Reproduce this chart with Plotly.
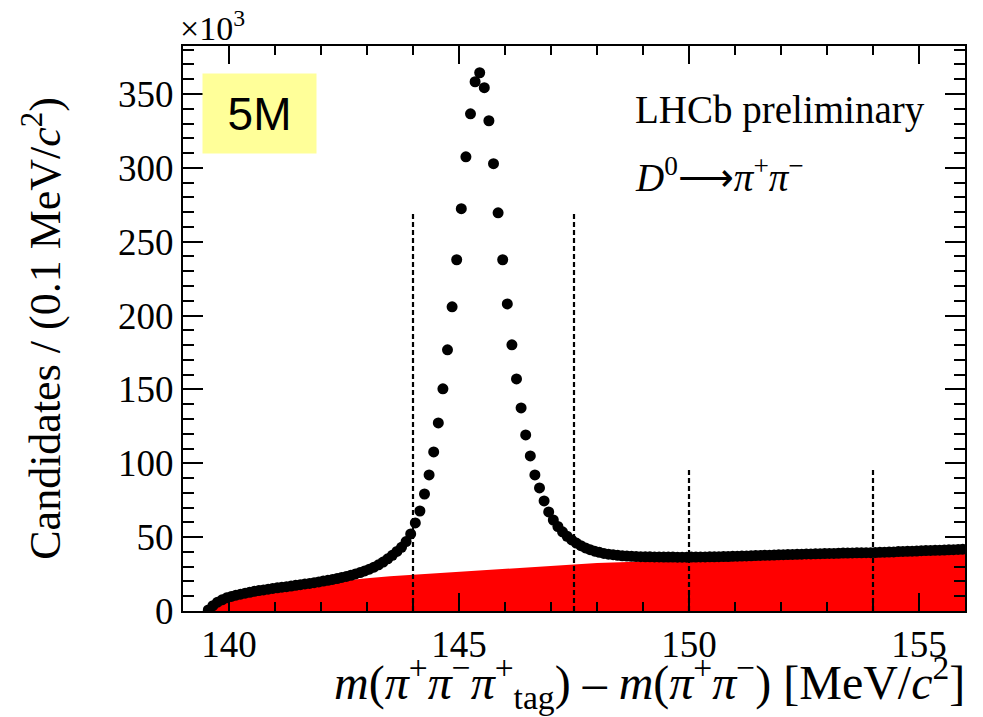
import plotly.graph_objects as go

# ---- data (values in units of 10^3 candidates per 0.1 MeV/c^2 bin) ----
bin_low = 139.5
bin_width = 0.1
candidates = [
    0.7, 3.6, 6.0, 7.6, 8.9, 9.9, 10.7, 11.4, 12.1, 12.7,
    13.3, 13.8, 14.3, 14.8, 15.3, 15.7, 16.1, 16.5, 16.9, 17.4,
    17.8, 18.3, 18.7, 19.2, 19.7, 20.3, 20.8, 21.4, 22.0, 22.7,
    23.4, 24.2, 25.1, 26.0, 27.1, 28.3, 29.7, 31.3, 33.1, 35.3,
    37.7, 40.3, 43.1, 47.0, 52.2, 59.6, 67.7, 79.2, 92.1, 107.7,
    127.3, 150.4, 176.8, 205.9, 237.8, 272.4, 307.5, 336.6, 358.3, 364.4,
    354.3, 331.9, 302.8, 269.6, 237.8, 207.9, 180.2, 157.1, 137.5, 119.2,
    105.0, 92.1, 83.3, 74.5, 67.1, 61.6, 57.2, 53.6, 50.6, 48.1,
    46.0, 44.2, 42.7, 41.5, 40.5, 39.7, 39.0, 38.5, 38.1, 37.7,
    37.4, 37.2, 37.0, 36.9, 36.8, 36.7, 36.7, 36.6, 36.6, 36.5,
    36.5, 36.5, 36.4, 36.4, 36.4, 36.5, 36.5, 36.6, 36.6, 36.7,
    36.7, 36.8, 36.9, 36.9, 37.0, 37.1, 37.2, 37.3, 37.4, 37.5,
    37.6, 37.7, 37.8, 37.9, 38.0, 38.1, 38.2, 38.3, 38.4, 38.5,
    38.6, 38.6, 38.7, 38.8, 38.9, 39.0, 39.0, 39.1, 39.2, 39.2,
    39.3, 39.4, 39.4, 39.5, 39.5, 39.6, 39.7, 39.8, 39.9, 40.0,
    40.2, 40.3, 40.4, 40.5, 40.6, 40.8, 40.9, 41.0, 41.1, 41.2,
    41.3, 41.4, 41.5, 41.7, 41.8,
]
bin_centers = [round(bin_low + bin_width * (i + 0.5), 2) for i in range(len(candidates))]

# background component (red area)
bkg_x = [139.57, 139.7, 139.8, 140.0, 140.5, 141.0, 141.5, 142.0, 142.5, 143.0,
         143.5, 144.0, 144.5, 145.0, 145.5, 146.0, 146.5, 147.0, 147.5, 148.0,
         149.0, 150.0, 151.0, 152.0, 153.0, 154.0, 155.0, 156.0]
bkg_y = [0.0, 4.5, 6.5, 9.0, 12.5, 15.0, 17.0, 19.0, 20.7, 22.2,
         23.5, 24.5, 25.8, 27.0, 28.0, 29.0, 30.0, 31.0, 31.8, 32.5,
         33.5, 34.3, 35.0, 35.8, 36.6, 37.4, 38.3, 39.1]

# vertical dashed markers (signal / sideband limits)
cut_x = [144.0, 147.5, 150.0, 154.0]
cut_top = [269.0, 269.0, 96.0, 96.0]

x_ticks = [140, 145, 150, 155]
y_ticks = [0, 50, 100, 150, 200, 250, 300, 350]

SERIF = "Liberation Serif"

fig = go.Figure()

fig.add_trace(go.Scatter(
    x=bkg_x, y=bkg_y, mode="lines", fill="tozeroy",
    line=dict(width=0, color="#FF0000"), fillcolor="#FF0000",
    hoverinfo="skip", showlegend=False))

lx, ly = [], []
for cx, ct in zip(cut_x, cut_top):
    lx += [cx, cx, None]
    ly += [0, ct, None]
fig.add_trace(go.Scatter(
    x=lx, y=ly, mode="lines",
    line=dict(color="black", width=2.2, dash="5px,3px"),
    hoverinfo="skip", showlegend=False))

fig.add_trace(go.Scatter(
    x=bin_centers, y=candidates, mode="markers",
    marker=dict(color="black", size=11),
    showlegend=False))

axis_common = dict(
    showgrid=False, zeroline=False, showline=True, linewidth=2, linecolor="black",
    mirror="allticks", ticks="inside", tickwidth=2, tickcolor="black",
    tickfont=dict(family=SERIF, size=37, color="black"),
)

fig.update_xaxes(
    range=[139, 156], tickvals=x_ticks, ticklen=18,
    minor=dict(ticks="inside", dtick=1, ticklen=9, tickwidth=2, tickcolor="black", showgrid=False),
    **axis_common)
fig.update_yaxes(
    range=[0, 382.5], tickvals=y_ticks, ticklen=20,
    minor=dict(ticks="inside", dtick=10, ticklen=11, tickwidth=2, tickcolor="black", showgrid=False),
    **axis_common)

annotations = [
    dict(text="×10<sup>3</sup>", xref="paper", yref="paper", x=-0.006, y=1.036,
         xanchor="left", yanchor="middle", showarrow=False,
         font=dict(family=SERIF, size=34, color="black")),
    dict(text="LHCb preliminary", xref="paper", yref="paper", x=0.5754, y=0.8875,
         xanchor="left", yanchor="middle", showarrow=False,
         font=dict(family=SERIF, size=39, color="black")),
    dict(text="<i>D</i><sup>0</sup>⟶<i>π</i><sup>+</sup><i>π</i><sup>−</sup>",
         xref="paper", yref="paper", x=0.5754, y=0.772,
         xanchor="left", yanchor="middle", showarrow=False,
         font=dict(family=SERIF, size=39, color="black")),
    dict(text="5M", xref="paper", yref="paper", x=0.0978, y=0.8813,
         xanchor="center", yanchor="middle", showarrow=False,
         width=113, height=79, bgcolor="#FFFF99", borderpad=0,
         font=dict(family="Liberation Sans", size=46, color="black")),
    dict(text="<i>m</i>(<i>π</i><sup>+</sup><i>π</i><sup>−</sup><i>π</i><sup>+</sup><sub>tag</sub>) – <i>m</i>(<i>π</i><sup>+</sup><i>π</i><sup>−</sup>) [MeV/<i>c</i><sup>2</sup>]",
         xref="paper", yref="paper", x=1.002, y=-0.126,
         xanchor="right", yanchor="middle", showarrow=False,
         font=dict(family=SERIF, size=48, color="black")),
    dict(text="Candidates / (0.1 MeV/<i>c</i><sup>2</sup>)",
         xref="paper", yref="paper", x=-0.18, y=0.50, textangle=-90,
         xanchor="center", yanchor="middle", showarrow=False,
         font=dict(family=SERIF, size=44, color="black")),
]

fig.update_layout(
    width=983, height=717,
    margin=dict(l=183, r=18, t=46, b=106),
    plot_bgcolor="white", paper_bgcolor="white",
    annotations=annotations,
    showlegend=False,
)

fig.write_html("out.html")
